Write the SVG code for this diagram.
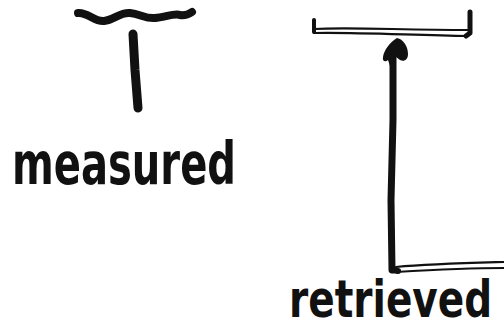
<svg xmlns="http://www.w3.org/2000/svg" width="504" height="335" viewBox="0 0 504 335">
<style>
.ink{fill:none;stroke:#111;stroke-linecap:round;stroke-linejoin:round}
.thin{fill:none;stroke:#111;stroke-width:2.2;stroke-linecap:round}
.lbl{font-family:"DejaVu Sans",sans-serif;font-weight:bold;fill:#111}
</style>
<rect width="504" height="335" fill="#fff"/>
<g id="measured">
<path class="ink" stroke-width="8" d="M78,13 C88,12 94,22 104,21 C114,20 120,12 130,13 C140,14 146,19 155,18 C165,17 175,13 180,15 C186,16 189,14 192,12"/>
<path class="ink" stroke-width="9" d="M133,34 L135,70 L138,108"/>
<text class="lbl" x="12" y="184" font-size="58" textLength="224" lengthAdjust="spacingAndGlyphs">measured</text>
</g>
<g id="retrieved">
<path class="ink" stroke-width="4" d="M314,20 L314,32"/>
<path class="ink" stroke-width="5" d="M470,12 L470,33 L466,36"/>
<path class="thin" d="M314,29 C350,27 400,30 468,30"/>
<path class="thin" d="M314,33 C350,32 410,35 468,36"/>
<path class="thin" d="M396,267 C430,264 470,263 504,262"/>
<path class="thin" d="M396,272 C430,270 470,268 504,268"/>
<text class="lbl" transform="translate(289,317) scale(0.75,1)" x="0" y="0" font-size="52">retrieved</text>
</g>
<g id="connectors">
<path class="ink" stroke-width="7" d="M392,270 L391,200 L393,120 L393,58"/>
<path d="M397,38 C403,39 408,46 408,54 C408,60 404,62 400,60 L396,57 L395,66 L390,66 L388,60 C386,62 382,62 383,57 C384,50 390,42 397,38 Z" fill="#111"/>
<path class="ink" stroke-width="6" d="M392,270 L398,271"/>
</g>
</svg>
